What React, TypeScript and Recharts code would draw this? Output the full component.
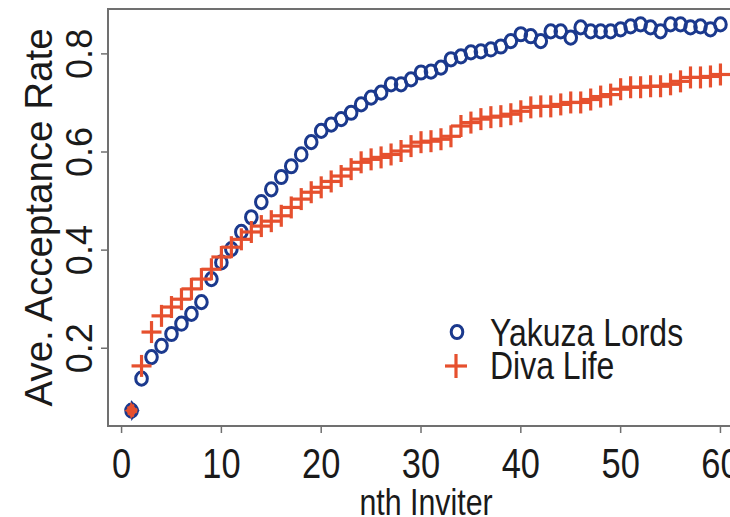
import { ScatterChart, Scatter, XAxis, YAxis, ReferenceArea } from "recharts";

// nth inviter, 1..60
const inviter = [
  1, 2, 3, 4, 5, 6, 7, 8, 9, 10, 11, 12, 13, 14, 15, 16, 17, 18, 19, 20,
  21, 22, 23, 24, 25, 26, 27, 28, 29, 30, 31, 32, 33, 34, 35, 36, 37, 38, 39, 40,
  41, 42, 43, 44, 45, 46, 47, 48, 49, 50, 51, 52, 53, 54, 55, 56, 57, 58, 59, 60,
];

const yakuzaLords = [
  0.073, 0.138, 0.182, 0.205, 0.229, 0.25, 0.27, 0.294, 0.341, 0.375,
  0.402, 0.437, 0.467, 0.498, 0.524, 0.549, 0.571, 0.595, 0.62, 0.643,
  0.656, 0.667, 0.68, 0.697, 0.711, 0.721, 0.738, 0.738, 0.748, 0.762,
  0.764, 0.772, 0.789, 0.795, 0.803, 0.805, 0.809, 0.815, 0.826, 0.84,
  0.836, 0.826, 0.846, 0.846, 0.833, 0.854, 0.846, 0.846, 0.846, 0.85,
  0.856, 0.86, 0.854, 0.846, 0.86, 0.86, 0.854, 0.856, 0.85, 0.86,
];

const divaLife = [
  0.073, 0.164, 0.233, 0.266, 0.284, 0.3, 0.321, 0.341, 0.361, 0.386,
  0.406, 0.422, 0.437, 0.449, 0.459, 0.47, 0.487, 0.504, 0.518, 0.528,
  0.54, 0.551, 0.565, 0.579, 0.585, 0.589, 0.595, 0.602, 0.612, 0.62,
  0.622, 0.626, 0.632, 0.653, 0.66, 0.667, 0.671, 0.673, 0.677, 0.683,
  0.691, 0.693, 0.693, 0.697, 0.701, 0.701, 0.707, 0.713, 0.717, 0.728,
  0.732, 0.732, 0.734, 0.734, 0.738, 0.744, 0.752, 0.752, 0.754, 0.758,
];

const seriesNames = ["Yakuza Lords", "Diva Life"];
const xTicks = [0, 10, 20, 30, 40, 50, 60];
const yTicks = [0.2, 0.4, 0.6, 0.8];

const FONT = '"Liberation Sans", Arial, Helvetica, sans-serif';
const NAVY = "#1b398d";
const RED = "#e6502e";
const FRAME = "#707070";
const TEXT = "#1a1a1a";
// horizontal text in the reference is a narrow face
const NARROW = 0.82;

// R style axis range: data range plus 4% each side
function padRange(values: number[]): [number, number] {
  const lo = Math.min(...values);
  const hi = Math.max(...values);
  const r = (hi - lo) * 0.04;
  return [lo - r, hi + r];
}

const xDomain = padRange(inviter);
const yDomain = padRange([...yakuzaLords, ...divaLife]);

const yakuzaData = inviter.map((n, i) => ({ n, rate: yakuzaLords[i] }));
const divaData = inviter.map((n, i) => ({ n, rate: divaLife[i] }));

function CircleMark(props: any) {
  const { cx, cy } = props;
  return <ellipse cx={cx} cy={cy} rx={5.8} ry={6.6} fill="none" stroke={NAVY} strokeWidth={3} />;
}

function PlusMark(props: any) {
  const { cx, cy, payload } = props;
  if (payload && payload.n === 1) {
    return (
      <polygon
        points={`${cx},${cy - 9} ${cx + 7},${cy} ${cx},${cy + 9} ${cx - 7},${cy}`}
        fill={RED}
        stroke={NAVY}
        strokeWidth={1.6}
        strokeDasharray="3 2"
      />
    );
  }
  return (
    <g stroke={RED} strokeWidth={3.2}>
      <line x1={cx - 10} y1={cy} x2={cx + 10} y2={cy} />
      <line x1={cx} y1={cy - 11} x2={cx} y2={cy + 11} />
    </g>
  );
}

function XTick(props: any) {
  const { x, y, payload } = props;
  return (
    <text
      transform={`translate(${x},${y + 43}) scale(${NARROW},1)`}
      textAnchor="middle"
      fontSize={42}
      fontFamily={FONT}
      fill={TEXT}
    >
      {payload.value}
    </text>
  );
}

function YTick(props: any) {
  const { x, y, payload } = props;
  return (
    <text
      transform={`translate(${x - 7},${y}) rotate(-90)`}
      textAnchor="middle"
      fontSize={36}
      fontFamily={FONT}
      fill={TEXT}
    >
      {payload.value}
    </text>
  );
}

function XTitle(props: any) {
  const { viewBox } = props;
  const cx = viewBox.x + viewBox.width / 2;
  return (
    <text
      transform={`translate(${cx},${viewBox.y + 89}) scale(${NARROW},1)`}
      textAnchor="middle"
      fontSize={37}
      fontFamily={FONT}
      fill={TEXT}
    >
      nth Inviter
    </text>
  );
}

function YTitle(props: any) {
  const { viewBox } = props;
  const cy = viewBox.y + viewBox.height / 2;
  return (
    <text
      transform={`translate(${viewBox.x + 52},${cy}) rotate(-90)`}
      textAnchor="middle"
      fontSize={38.5}
      fontFamily={FONT}
      fill={TEXT}
    >
      Ave. Acceptance Rate
    </text>
  );
}

function LegendBox() {
  return (
    <svg
      width={300}
      height={90}
      style={{ position: "absolute", left: 430, top: 305, pointerEvents: "none" }}
    >
      <ellipse cx={27} cy={27} rx={5.8} ry={6.6} fill="none" stroke={NAVY} strokeWidth={3} />
      <g stroke={RED} strokeWidth={3.2}>
        <line x1={15} y1={61} x2={37} y2={61} />
        <line x1={26} y1={49} x2={26} y2={73} />
      </g>
      {seriesNames.map((name, i) => (
        <text
          key={name}
          transform={`translate(60,${41 + i * 33}) scale(${NARROW},1)`}
          fontSize={39}
          fontFamily={FONT}
          fill={TEXT}
        >
          {name}
        </text>
      ))}
    </svg>
  );
}

export default function App() {
  return (
    <div
      style={{
        position: "absolute",
        left: 0,
        top: 0,
        width: 730,
        height: 517,
        overflow: "hidden",
        background: "#fff",
      }}
    >
      <ScatterChart width={760} height={517} margin={{ top: 9, right: 16, bottom: 0, left: 0 }}>
        <XAxis
          type="number"
          dataKey="n"
          domain={xDomain}
          ticks={xTicks}
          allowDataOverflow
          height={91}
          axisLine={false}
          tickSize={7}
          tickLine={{ stroke: FRAME, strokeWidth: 1.5 }}
          tick={<XTick />}
          label={{ content: <XTitle /> }}
        />
        <YAxis
          type="number"
          dataKey="rate"
          domain={yDomain}
          ticks={yTicks}
          allowDataOverflow
          width={108}
          axisLine={false}
          tickSize={7}
          tickLine={{ stroke: FRAME, strokeWidth: 1.5 }}
          tick={<YTick />}
          label={{ content: <YTitle /> }}
        />
        <ReferenceArea
          x1={xDomain[0]}
          x2={xDomain[1]}
          y1={yDomain[0]}
          y2={yDomain[1]}
          fill="none"
          fillOpacity={0}
          stroke={FRAME}
          strokeWidth={2}
          ifOverflow="visible"
        />
        <Scatter
          name={seriesNames[0]}
          data={yakuzaData}
          shape={<CircleMark />}
          isAnimationActive={false}
        />
        <Scatter
          name={seriesNames[1]}
          data={divaData}
          shape={<PlusMark />}
          isAnimationActive={false}
        />
      </ScatterChart>
      <LegendBox />
    </div>
  );
}
